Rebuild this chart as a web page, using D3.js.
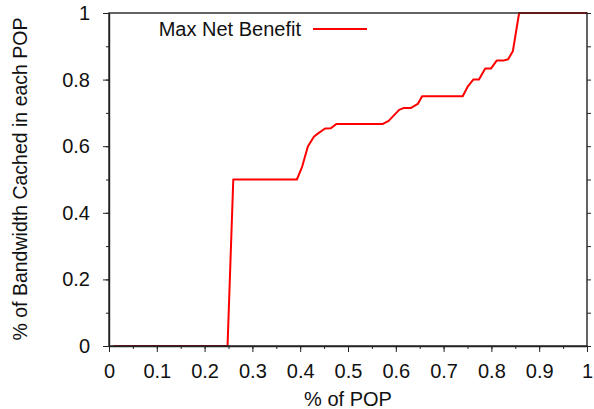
<!DOCTYPE html>
<html>
<head>
<meta charset="utf-8">
<script src="https://cdn.jsdelivr.net/npm/d3@7"></script>
<style>
  body { margin: 0; background: #fff; }
  text { font-family: "Liberation Sans", Arial, sans-serif; fill: #111; }
</style>
</head>
<body>
<div id="chart"></div>
<script>
// values
var popShare = [0.01, 0.248, 0.26, 0.393, 0.404, 0.416, 0.429, 0.439, 0.452, 0.464, 0.476,
    0.573, 0.585, 0.607, 0.617, 0.632, 0.646, 0.655, 0.740, 0.750, 0.762, 0.774,
    0.787, 0.799, 0.811, 0.825, 0.835, 0.845, 0.858, 1.0];
var cachedShare = [0, 0, 0.5, 0.5, 0.538, 0.599, 0.629, 0.640, 0.653, 0.654, 0.667,
    0.667, 0.676, 0.709, 0.715, 0.715, 0.727, 0.75, 0.75, 0.778, 0.8, 0.8,
    0.833, 0.833, 0.857, 0.857, 0.861, 0.886, 1.0, 1.0];
var xTicks = [0, 0.1, 0.2, 0.3, 0.4, 0.5, 0.6, 0.7, 0.8, 0.9, 1];
var yTicks = [0, 0.2, 0.4, 0.6, 0.8, 1];
var seriesName = "Max Net Benefit";

var svgWidth = 594;
var svgHeight = 409;
var margin = { top: 13, right: 7, bottom: 63, left: 109 };
var width = svgWidth - margin.left - margin.right;
var height = svgHeight - margin.top - margin.bottom;

var svg = d3.select("#chart").append("svg")
    .attr("width", svgWidth)
    .attr("height", svgHeight);

var chartGroup = svg.append("g")
    .attr("transform", `translate(${margin.left}, ${margin.top})`);

var xScale = d3.scaleLinear().domain([0, 1]).range([0, width]);
var yScale = d3.scaleLinear().domain([0, 1]).range([height, 0]);

var points = popShare.map((x, i) => [x, cachedShare[i]]);

// the curve
chartGroup.append("path")
    .datum(points)
    .attr("fill", "none")
    .attr("stroke", "#ff0000")
    .attr("stroke-width", 2)
    .attr("stroke-linejoin", "round")
    .attr("d", d3.line().x(d => xScale(d[0])).y(d => yScale(d[1])));

// minor ticks
var fmt = d => d3.format("")(+d.toFixed(1));
chartGroup.append("g")
    .attr("transform", `translate(0, ${height})`)
    .call(d3.axisBottom(xScale).ticks(20).tickSize(3).tickFormat(""))
    .call(g => g.select(".domain").remove());
chartGroup.append("g")
    .call(d3.axisLeft(yScale).ticks(10).tickSize(3).tickFormat(""))
    .call(g => g.select(".domain").remove());
chartGroup.append("g")
    .attr("transform", `translate(${width}, 0)`)
    .call(d3.axisRight(yScale).ticks(10).tickSize(4).tickFormat(""))
    .call(g => g.select(".domain").remove());

// major axes
var xAxis = chartGroup.append("g")
    .attr("transform", `translate(0, ${height})`)
    .call(d3.axisBottom(xScale).tickValues(xTicks).tickSize(6).tickPadding(12).tickSizeOuter(0).tickFormat(fmt));
var yAxis = chartGroup.append("g")
    .call(d3.axisLeft(yScale).tickValues(yTicks).tickSize(6).tickPadding(13).tickSizeOuter(0).tickFormat(fmt));

// frame
chartGroup.append("rect")
    .attr("width", width)
    .attr("height", height)
    .attr("fill", "none")
    .attr("stroke", "#222")
    .attr("stroke-width", 1.4);

svg.selectAll(".tick line").attr("stroke", "#222");
svg.selectAll(".domain").attr("stroke", "#222").attr("stroke-width", 1.4);
xAxis.selectAll("text").style("font-size", "20px");
yAxis.selectAll("text").style("font-size", "20px");

// axis labels
svg.append("text")
    .attr("x", 348)
    .attr("y", 406)
    .attr("text-anchor", "middle")
    .style("font-size", "20px")
    .text("% of POP");

svg.append("text")
    .attr("transform", `translate(27, 179) rotate(-90)`)
    .attr("text-anchor", "middle")
    .style("font-size", "19.5px")
    .text("% of Bandwidth Cached in each POP");

// legend
svg.append("text")
    .attr("x", 301)
    .attr("y", 36)
    .attr("text-anchor", "end")
    .style("font-size", "20px")
    .text(seriesName);
svg.append("line")
    .attr("x1", 313).attr("x2", 367)
    .attr("y1", 29).attr("y2", 29)
    .attr("stroke", "#ff0000")
    .attr("stroke-width", 2);
</script>
</body>
</html>
